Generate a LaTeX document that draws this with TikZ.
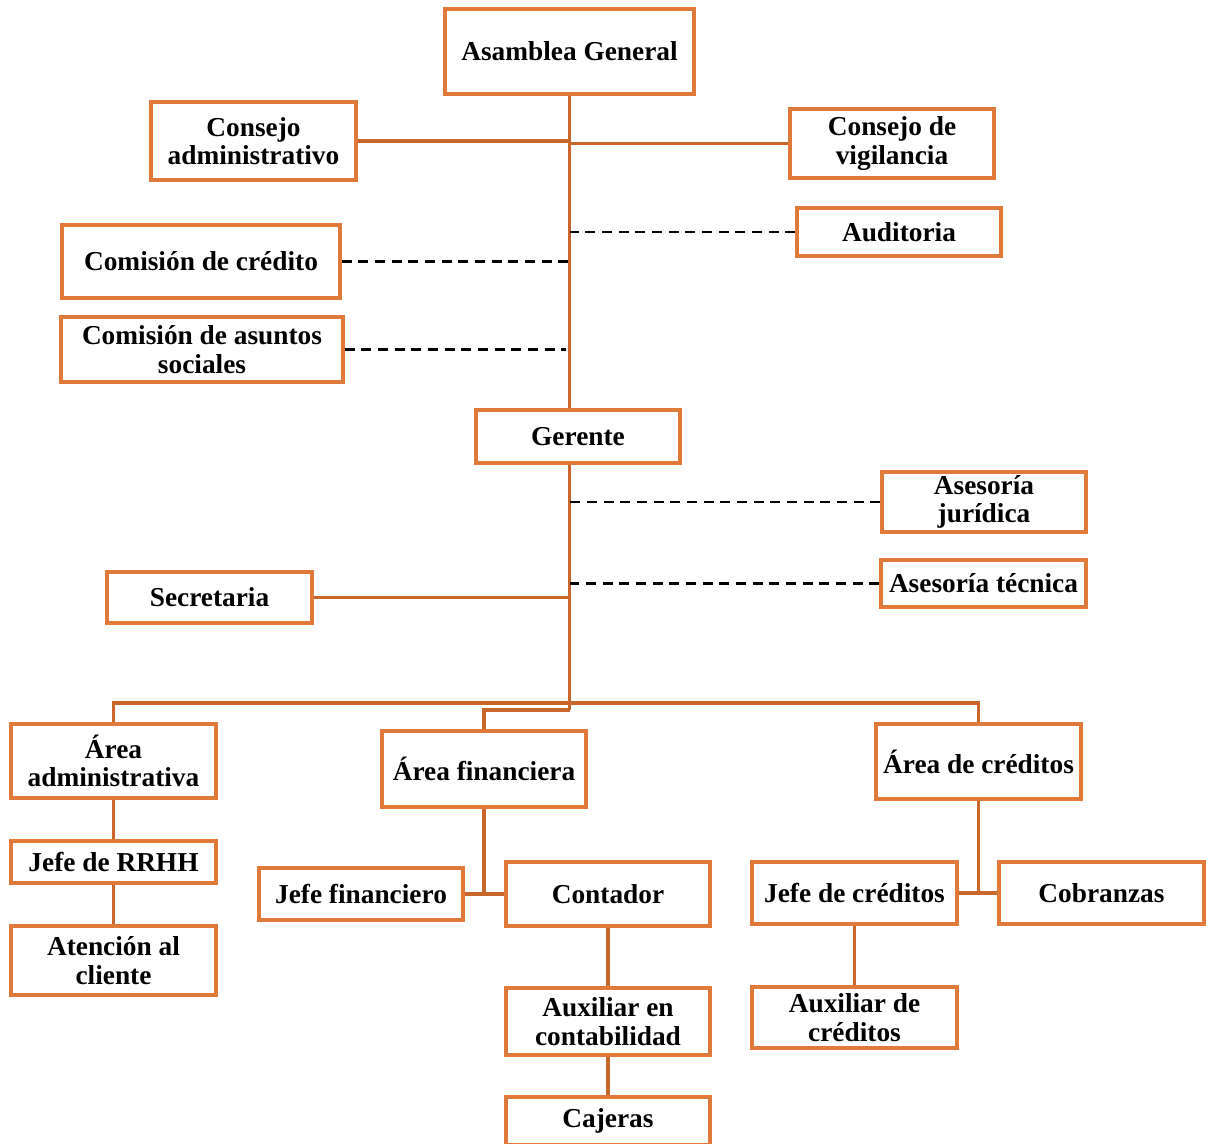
\documentclass[tikz,border=0pt]{standalone}
\usepackage{fontspec}
\setmainfont{Liberation Serif}
\definecolor{boxc}{RGB}{224,122,58}
\definecolor{linec}{RGB}{200,102,44}
\tikzset{
  obox/.style={draw=boxc, line width=2.4pt, fill=white, inner sep=0pt, align=center,
    font=\fontsize{20.5}{21.5}\selectfont\bfseries},
  conn/.style={draw=linec, line width=2.3pt},
  dconn/.style={draw=black, line width=1.9pt, dash pattern=on 7.5pt off 5pt}
}
\newcommand{\obox}[6]{\node[obox, minimum width={(#4-#2)*0.75pt}, minimum height={(#5-#3)*0.75pt}] (#1) at ({(#2+#4)/2},{(#3+#5)/2}) {#6};}
\begin{document}
\begin{tikzpicture}[x=0.75pt,y=-0.75pt]
\useasboundingbox (0,0) rectangle (1206,1144);
\coordinate (trunk) at (569.5,703);
\coordinate (fin) at (569.5,710);
% boxes
\obox{ag}{445}{9}{694}{94}{Asamblea General}
\obox{ca}{151}{102}{356}{180}{Consejo\\administrativo}
\obox{cv}{790}{109}{994}{178}{Consejo de\\vigilancia}
\obox{aud}{797}{208}{1001}{256}{Auditoria}
\obox{cc}{62}{225}{340}{298}{Comisión de crédito}
\obox{cas}{61}{317}{343}{382}{Comisión de asuntos\\sociales}
\obox{ger}{476}{410}{680}{463}{Gerente}
\obox{aj}{882}{472}{1086}{532}{Asesoría\\jurídica}
\obox{at}{881}{560}{1086}{607}{Asesoría técnica}
\obox{sec}{107}{572}{312}{623}{Secretaria}
\obox{aa}{11}{724}{216}{798}{Área\\administrativa}
\obox{af}{382}{731}{586}{807}{Área financiera}
\obox{acr}{876}{724}{1081}{799}{Área de créditos}
\obox{rrhh}{11}{841}{216}{883}{Jefe de RRHH}
\obox{aten}{11}{926}{216}{995}{Atención al\\cliente}
\obox{jf}{259}{868}{463}{920}{Jefe financiero}
\obox{cont}{506}{862}{710}{926}{Contador}
\obox{auxc}{506}{988}{710}{1055}{Auxiliar en\\contabilidad}
\obox{caj}{506}{1097}{710}{1145}{Cajeras}
\obox{jc}{752}{862}{957}{924}{Jefe de créditos}
\obox{cob}{999}{862}{1204}{924}{Cobranzas}
\obox{auxcr}{752}{987}{957}{1048}{Auxiliar de\\créditos}
% solid connectors
\draw[conn] (ag.south) -- (ag.south |- ger.north);
\draw[conn] (ca.east) -- (ca.east -| ag.south);
\draw[conn] (cv.west) -- (cv.west -| ag.south);
\draw[conn] (ag.south |- ger.south) -- (fin);
\draw[conn] (sec.east) -- (sec.east -| ag.south);
\draw[conn] (aa.north) -- (aa.north |- trunk) -- (acr.north |- trunk) -- (acr.north);
\draw[conn] (fin) -- (fin -| af.north) -- (af.north);
\draw[conn] (aa.south) -- (rrhh.north);
\draw[conn] (rrhh.south) -- (aten.north);
\draw[conn] (af.south) -- (af.south |- jf.east);
\draw[conn] (jf.east) -- (cont.west);
\draw[conn] (cont.south) -- (auxc.north);
\draw[conn] (auxc.south) -- (caj.north);
\draw[conn] (acr.south) -- (acr.south |- jc.east);
\draw[conn] (jc.east) -- (cob.west);
\draw[conn] (jc.south) -- (auxcr.north);
% dashed connectors
\draw[dconn] (aud.west) -- (aud.west -| ag.south);
\draw[dconn] (cc.east) -- (cc.east -| ag.south);
\draw[dconn] (cas.east) -- ([xshift=-3pt]cas.east -| ag.south);
\draw[dconn] (aj.west) -- (aj.west -| ag.south);
\draw[dconn] (at.west) -- (at.west -| ag.south);
\end{tikzpicture}
\end{document}
